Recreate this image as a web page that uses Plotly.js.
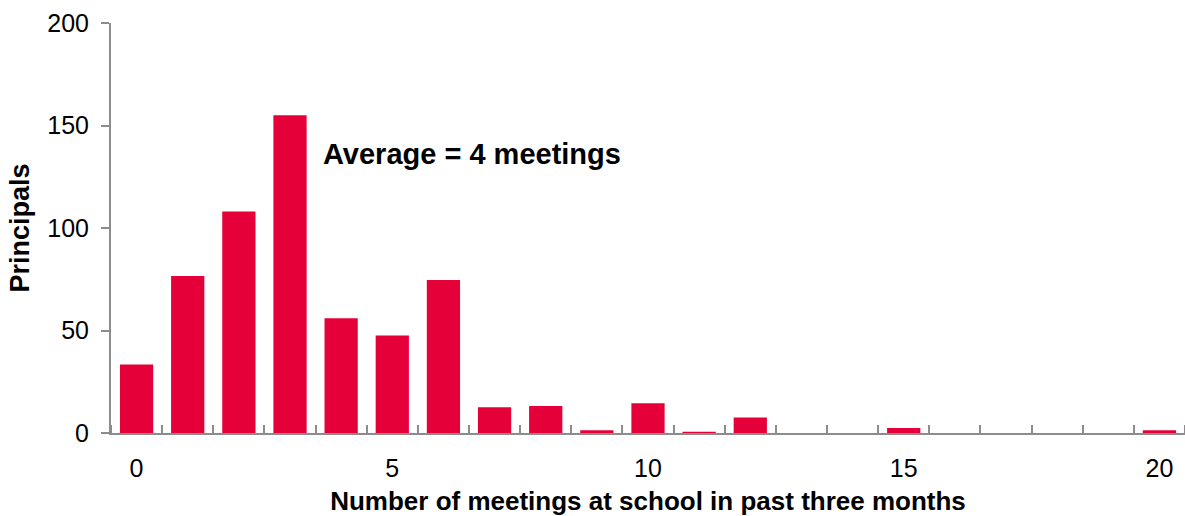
<!DOCTYPE html>
<html>
<head>
<meta charset="utf-8">
<script src="https://cdn.plot.ly/plotly-3.0.1.min.js"></script>
<style>
  html, body { margin: 0; padding: 0; background: #ffffff; }
  #chart { width: 1185px; height: 516px; }
</style>
</head>
<body>
<div id="chart"></div>
<script>
// Number of meetings at school (0..20)
const meetings = [0,1,2,3,4,5,6,7,8,9,10,11,12,13,14,15,16,17,18,19,20];
// Principals
const principals = [33.4, 76.6, 108, 155, 56, 47.5, 74.6, 12.5, 13.2, 1.3, 14.5, 0.6, 7.5, 0, 0, 2.4, 0, 0, 0, 0, 1.3];
const xTickVals = [0, 5, 10, 15, 20];
const xTickText = ['0', '5', '10', '15', '20'];
const boundaryTicks = [-0.5,0.5,1.5,2.5,3.5,4.5,5.5,6.5,7.5,8.5,9.5,10.5,11.5,12.5,13.5,14.5,15.5,16.5,17.5,18.5,19.5,20.5];
const yTickVals = [0, 50, 100, 150, 200];
const annotationText = 'Average = 4 meetings';
const xTitle = 'Number of meetings at school in past three months';
const yTitle = 'Principals';

const FONT = 'Liberation Sans, Arial, sans-serif';
const AXIS = '#8c8c8c';

const trace = {
  type: 'bar',
  x: meetings,
  y: principals,
  marker: { color: '#E6003A', line: { width: 0 } },
  hoverinfo: 'x+y'
};

const layout = {
  width: 1185,
  height: 516,
  margin: { l: 111, r: 0, t: 23, b: 83, pad: 0 },
  paper_bgcolor: '#ffffff',
  plot_bgcolor: '#ffffff',
  bargap: 0.35,
  showlegend: false,
  font: { family: FONT, color: '#000000' },
  xaxis: {
    type: 'linear',
    range: [-0.5, 20.5],
    tickmode: 'array',
    tickvals: xTickVals,
    ticktext: xTickText,
    ticks: '',
    ticklabelstandoff: 12,
    tickfont: { size: 25, family: FONT, color: '#000' },
    showgrid: false,
    zeroline: false,
    showline: true,
    linecolor: AXIS,
    linewidth: 2,
    minor: {
      tickmode: 'array',
      tickvals: boundaryTicks,
      ticks: 'inside',
      ticklen: 8,
      tickwidth: 2,
      tickcolor: AXIS,
      showgrid: false
    },
    title: {
      text: xTitle,
      font: { size: 26, family: FONT, color: '#000', weight: 'bold' },
      standoff: 18
    },
    fixedrange: true
  },
  yaxis: {
    range: [0, 200],
    tickmode: 'array',
    tickvals: yTickVals,
    ticks: 'outside',
    ticklen: 8,
    tickwidth: 2,
    tickcolor: AXIS,
    ticklabelstandoff: 7,
    tickfont: { size: 25, family: FONT, color: '#000' },
    showgrid: false,
    zeroline: false,
    showline: true,
    linecolor: AXIS,
    linewidth: 2,
    title: {
      text: yTitle,
      font: { size: 27, family: FONT, color: '#000', weight: 'bold' },
      standoff: 10
    },
    fixedrange: true
  },
  annotations: [{
    x: 3.6, y: 136, xref: 'x', yref: 'y',
    xanchor: 'left', yanchor: 'middle',
    text: '<b>' + annotationText + '</b>',
    showarrow: false,
    font: { size: 29, family: FONT, color: '#000' }
  }]
};

Plotly.newPlot('chart', [trace], layout, { displayModeBar: false, staticPlot: true });
</script>
</body>
</html>
